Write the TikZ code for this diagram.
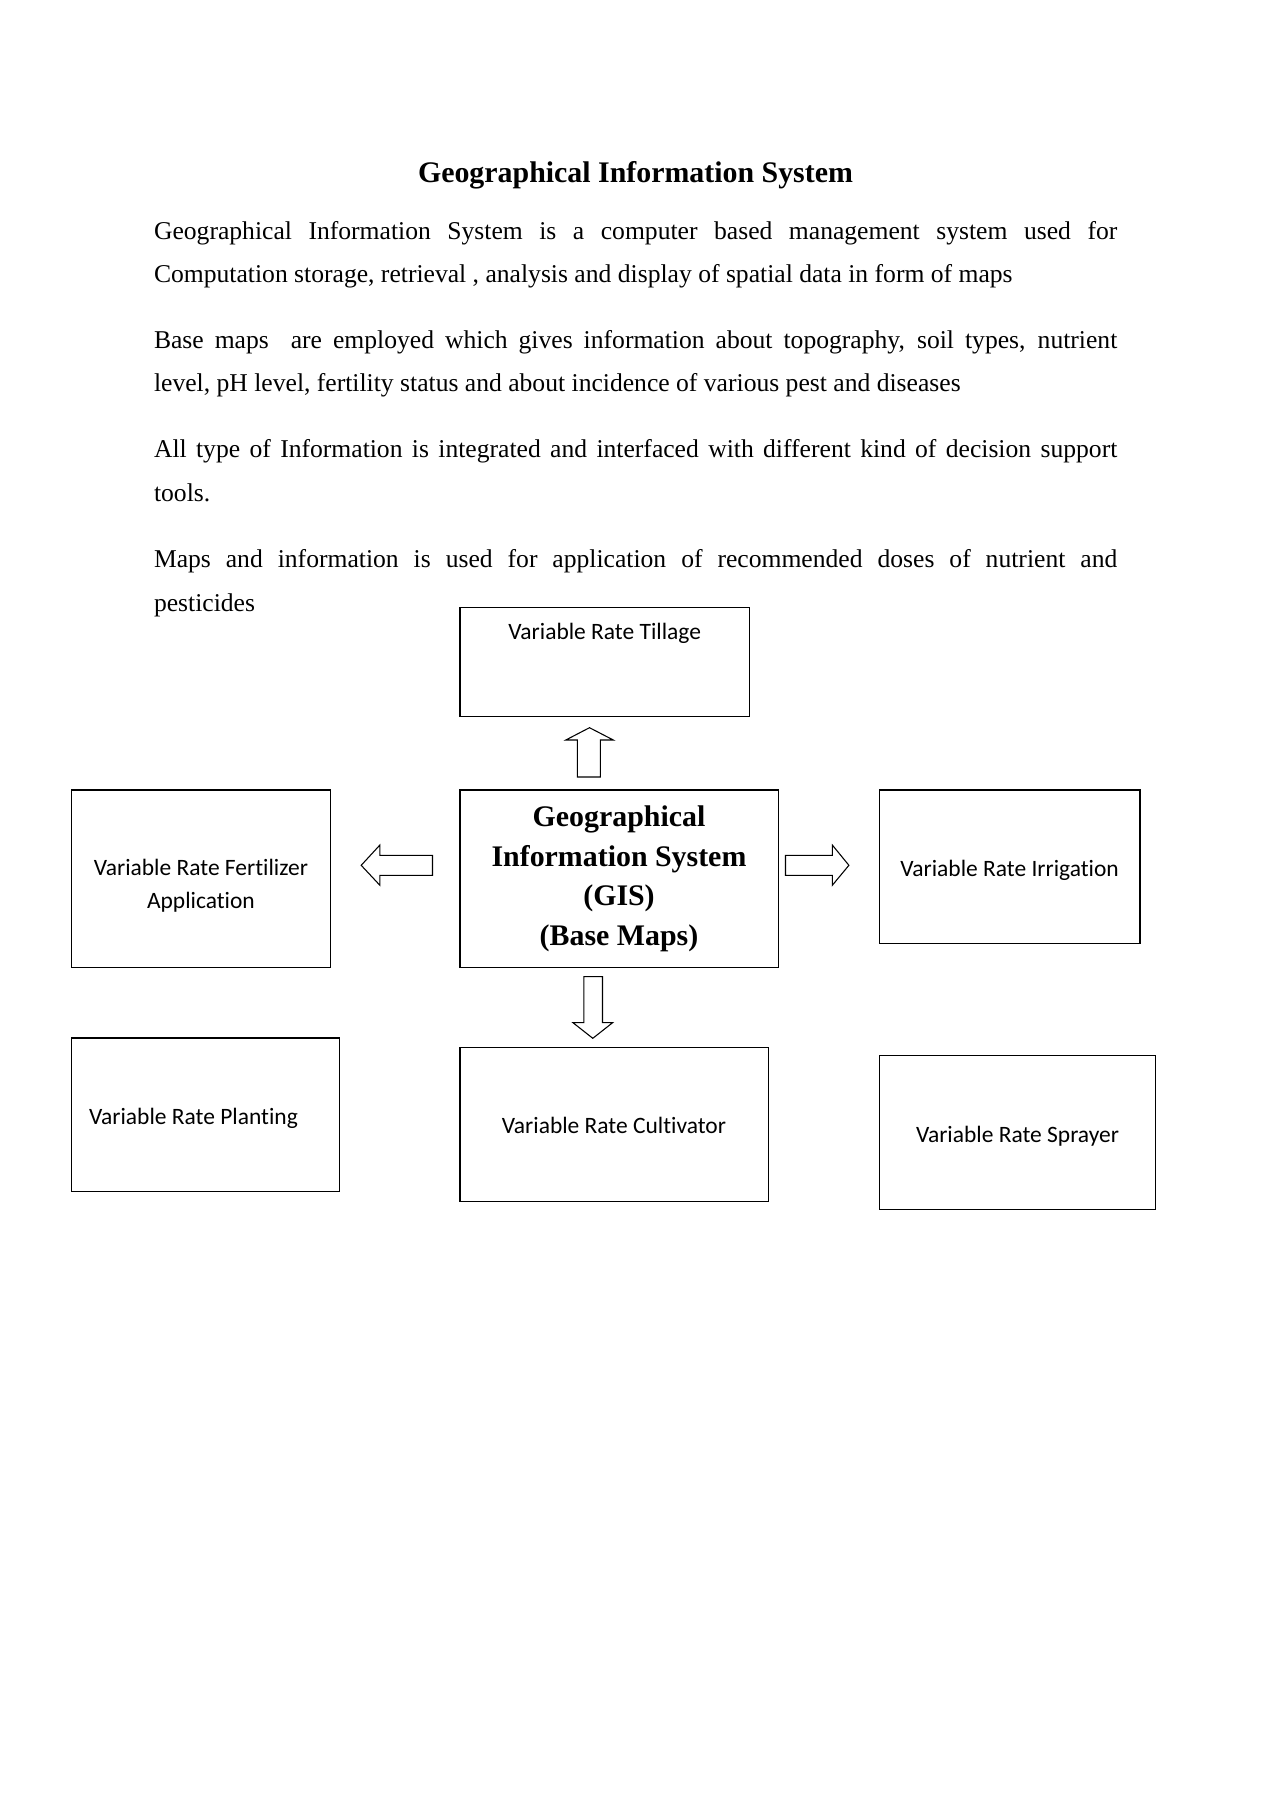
\documentclass[tikz,border=0pt]{standalone}
\usepackage{fontspec}
\setmainfont{Liberation Serif}
\newfontfamily\calibri[Ligatures=NoCommon]{Carlito}
\usetikzlibrary{fit}
\begin{document}
\begin{tikzpicture}[x=0.4685pt,y=-0.4685pt,
  box/.style={draw, line width=0.6pt, inner sep=0pt},
  boxtext/.style={font=\calibri\fontsize{11}{15.5}\selectfont, align=center, inner sep=0pt},
  bodyline/.style={anchor=base west, inner sep=0pt, font=\fontsize{12}{14}\selectfont},
  blockarrow/.style={draw, line width=0.5pt, fill=white, line join=miter}]
\fill[white] (0,0) rectangle (1271,1797);
\useasboundingbox (0,0) rectangle (1271,1797);

% title
\node[anchor=base, inner sep=0pt, font=\bfseries\fontsize{14}{16}\selectfont] (title) at (635.5,182) {Geographical Information System};

% body text
\node[bodyline] (p1a) at (153.6,239.3) {\makebox[451.3pt][s]{Geographical Information System is a computer based management system used for}};
\node[bodyline] (p1b) at (153.6,282.8) {Computation storage, retrieval , analysis and display of spatial data in form of maps};
\node[bodyline] (p2a) at (153.6,348.4) {\makebox[451.3pt][s]{Base maps\ \ are employed which gives information about topography, soil types, nutrient}};
\node[bodyline] (p2b) at (153.6,391.8) {level, pH level, fertility status and about incidence of various pest and diseases};
\node[bodyline] (p3a) at (153.6,457.8) {\makebox[451.3pt][s]{All type of Information is integrated and interfaced with different kind of decision support}};
\node[bodyline] (p3b) at (153.6,501.8) {tools.};
\node[bodyline] (p4a) at (153.6,567.8) {\makebox[451.3pt][s]{Maps and information is used for application of recommended doses of nutrient and}};
\node[bodyline] (p4b) at (153.6,611.2) {pesticides};

% boxes
\node[box, fit={(459.9,607.3)(749.5,716.3)}] (till) {};
\node[box, fit={(71.5,790)(330.2,967.7)}] (fert) {};
\node[box, fit={(459.9,790)(778.3,967.7)}] (gis) {};
\node[box, fit={(879.2,790)(1140,943.3)}] (irr) {};
\node[box, fit={(71.5,1038)(339.5,1191.7)}] (plant) {};
\node[box, fit={(459.9,1047.7)(768.2,1201.3)}] (cult) {};
\node[box, fit={(879.2,1055.7)(1155.8,1209.3)}] (spray) {};

% box texts
\node[boxtext, anchor=base] (tilltxt) at (604.7,639) {Variable Rate Tillage};
\node[boxtext, anchor=center] (ferttxt) at (200.9,886) {Variable Rate Fertilizer\\Application};
\node[boxtext, anchor=base] (irrtxt) at (1009.6,876) {Variable Rate Irrigation};
\node[boxtext, anchor=base] (planttxt) at (193.5,1124) {Variable Rate Planting};
\node[boxtext, anchor=base] (culttxt) at (614,1133) {Variable Rate Cultivator};
\node[boxtext, anchor=base] (spraytxt) at (1017.5,1142) {Variable Rate Sprayer};
\node[align=center, inner sep=0pt, font=\bfseries\fontsize{14}{18.5}\selectfont] (gistxt) at (619,879) {Geographical\\Information System\\(GIS)\\(Base Maps)};

% block arrows
\draw[blockarrow] (577.3,777) -- (577.3,740) -- (565.8,740) -- (589.5,727.7) -- (613.3,740) -- (600.3,740) -- (600.3,777) -- cycle;
\draw[blockarrow] (583.8,976.7) -- (583.8,1022.7) -- (573,1022.7) -- (592.8,1038.3) -- (612.6,1022.7) -- (602.5,1022.7) -- (602.5,976.7) -- cycle;
\draw[blockarrow] (432.5,855.3) -- (379.9,855.3) -- (379.9,845) -- (361.2,865.3) -- (379.9,885.3) -- (379.9,875.3) -- (432.5,875.3) -- cycle;
\draw[blockarrow] (785.5,855.3) -- (832.3,855.3) -- (832.3,845) -- (848.9,865.3) -- (832.3,885.3) -- (832.3,875.3) -- (785.5,875.3) -- cycle;
\end{tikzpicture}
\end{document}
